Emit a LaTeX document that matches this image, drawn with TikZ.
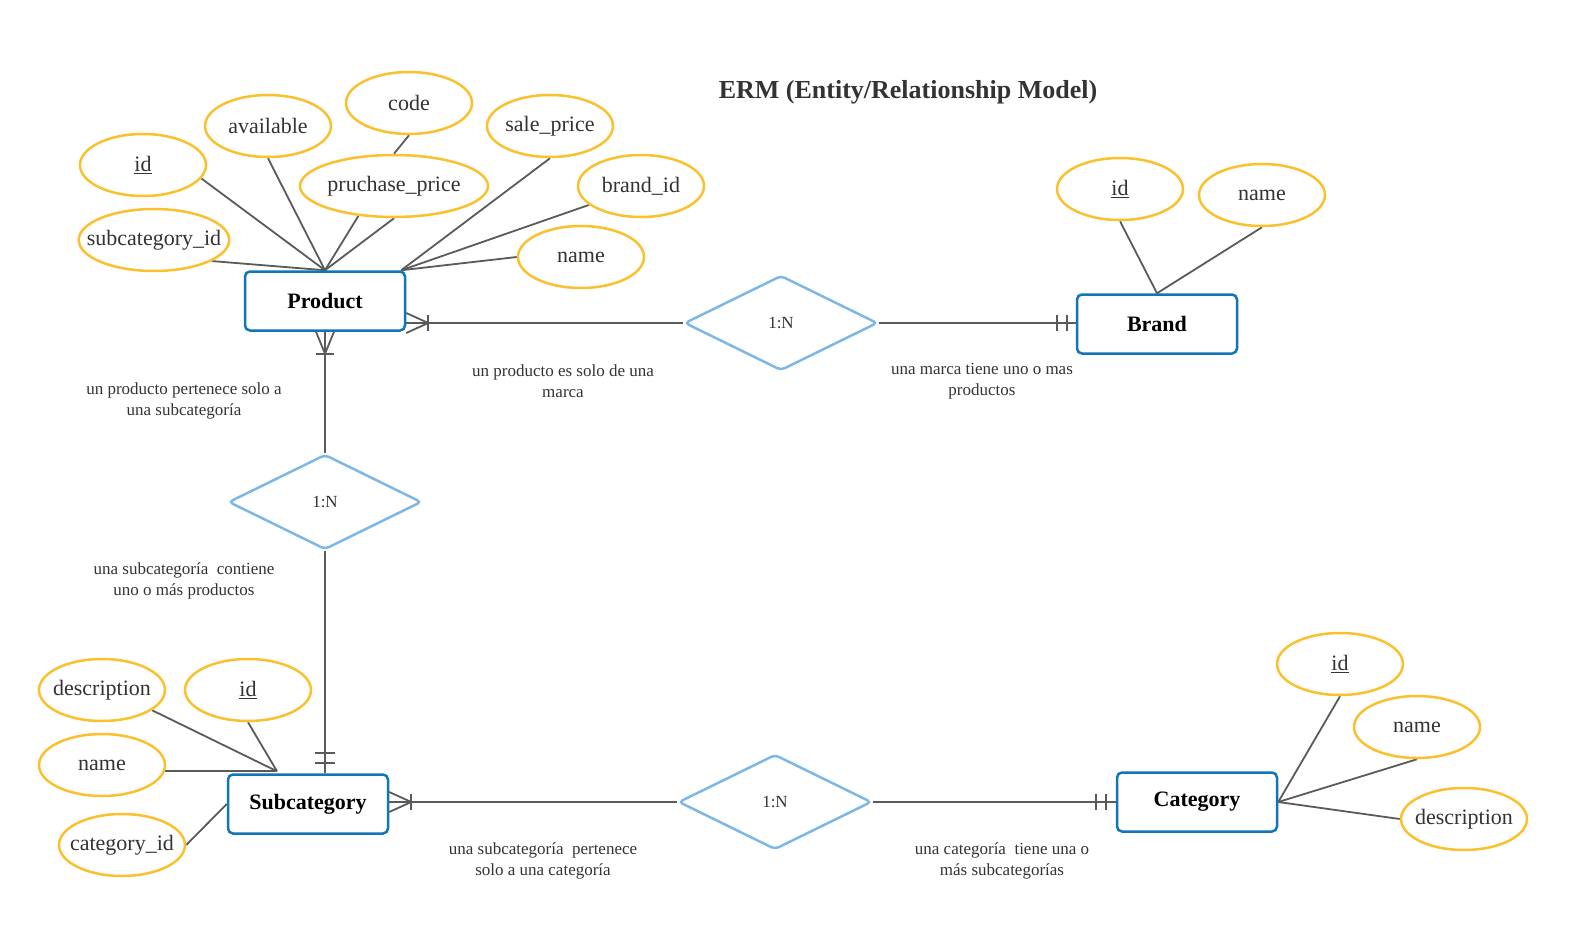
\documentclass[tikz,border=0pt]{standalone}
\usepackage{fontspec}
\setmainfont{Liberation Serif}
\usepackage{tikz}
\usetikzlibrary{shapes.geometric, positioning, calc, backgrounds}
\definecolor{ermorange}{RGB}{251, 192, 45}
\definecolor{ermblue}{RGB}{16, 118, 184}
\definecolor{ermsky}{RGB}{124, 183, 229}
\definecolor{ermgray}{RGB}{90, 90, 90}
\definecolor{ermtext}{RGB}{51, 51, 51}

\tikzset{
  attr/.style={ellipse, draw=ermorange, line width=2.5pt, fill=white, minimum width=126pt, minimum height=62pt, inner ysep=0pt, inner xsep=-14pt, text=ermtext, font=\fontsize{22}{25}\selectfont},
  entity/.style={rectangle, rounded corners=5pt, draw=ermblue, line width=2.5pt, fill=white, minimum width=160pt, minimum height=59pt, font=\fontsize{22}{26}\selectfont\bfseries},
  rel/.style={diamond, draw=ermsky, line width=2.5pt, fill=white, rounded corners=4pt, minimum width=193pt, minimum height=95pt, inner sep=0pt, text=ermtext, font=\fontsize{17}{20}\selectfont},
  conn/.style={ermgray, line width=1.8pt},
  note/.style={align=center, text=ermtext, font=\fontsize{17}{21}\selectfont}
}

\begin{document}
\begin{tikzpicture}[x=1pt, y=-1pt]
\useasboundingbox (0,0) rectangle (1572,947);

% Title
\node[font=\fontsize{26}{30}\selectfont\bfseries, text=ermtext] (title) at (908,92) {ERM (Entity/Relationship Model)};

% Entities
\node[entity] (prod) at (325,301) {Product};
\node[entity] (brand) at (1157,324) {Brand};
\node[entity] (subcat) at (308,804) {Subcategory};
\node[entity] (cat) at (1197,802) {Category};

% Relationships
\node[rel] (relpb) at (781,323) {1:N};
\node[rel] (relps) at (325,502) {1:N};
\node[rel] (relsc) at (775,802) {1:N};

% Product attributes
\node[attr] (pid) at (143,165) {\underline{id}};
\node[attr] (pavail) at (268,126) {available};
\node[attr] (pcode) at (409,103) {code};
\node[attr] (psale) at (550,126) {sale\_price};
\node[attr, minimum width=188pt] (ppurch) at (394,186) {pruchase\_price};
\node[attr] (pbrand) at (641,186) {brand\_id};
\node[attr] (pname) at (581,257) {name};
\node[attr, minimum width=150pt] (psub) at (154,240) {subcategory\_id};

% Brand attributes
\node[attr] (bid) at (1120,189) {\underline{id}};
\node[attr] (bname) at (1262,195) {name};

% Subcategory attributes
\node[attr] (sdesc) at (102,690) {description};
\node[attr] (sid) at (248,690) {\underline{id}};
\node[attr] (sname) at (102,765) {name};
\node[attr] (scat) at (122,845) {category\_id};

% Category attributes
\node[attr] (cid) at (1340,664) {\underline{id}};
\node[attr] (cname) at (1417,727) {name};
\node[attr] (cdesc) at (1464,819) {description};

% Attribute lines
\begin{scope}[on background layer]
\coordinate (ptr) at ($(prod.north east)+(-5,0)$);
\draw[conn] (pid.-13) -- (prod.north);
\draw[conn] (pavail.south) -- (prod.north);
\draw[conn] (pcode.south) -- (ppurch.north);
\draw[conn] (ppurch.-140) -- (prod.north);
\draw[conn] (ppurch.south) -- (prod.north);
\draw[conn] (psub.-20) -- (prod.north);
\draw[conn] (psale.south) -- (ptr);
\draw[conn] (pbrand.-160) -- (ptr);
\draw[conn] (pname.west) -- (ptr);
\draw[conn] (bid.south) -- (brand.north);
\draw[conn] (bname.south) -- (brand.north);
\coordinate (stop) at ($(subcat.north)+(-31,-2)$);
\draw[conn] (sdesc.-22) -- (stop);
\draw[conn] (sid.south) -- (stop);
\draw[conn] (sname.center |- stop) -- (stop);
\draw[conn] (scat.east) -- (subcat.west);
\draw[conn] (cid.south) -- (cat.east);
\draw[conn] (cname.south) -- (cat.east);
\draw[conn] (cdesc.west) -- (cat.east);
\end{scope}

% Product - Brand
\coordinate (pe) at (prod.east |- relpb);
\coordinate (bw) at (brand.west |- relpb);
\draw[conn] (pe) -- (relpb.west);
\draw[conn] (relpb.east) -- (bw);
\draw[conn] ($(pe)+(0,-10)$) -- ($(pe)+(22,0)$) -- ($(pe)+(0,10)$);
\draw[conn] ($(pe)+(22,-8)$) -- ($(pe)+(22,8)$);
\draw[conn] ($(bw)+(-19,-8)$) -- ($(bw)+(-19,8)$);
\draw[conn] ($(bw)+(-9,-8)$) -- ($(bw)+(-9,8)$);

% Product - Subcategory
\coordinate (st) at (relps.south |- subcat.north);
\draw[conn] (prod.south) -- (relps.north);
\draw[conn] (relps.south) -- (st);
\draw[conn] ($(prod.south)+(-9,0)$) -- ($(prod.south)+(0,22)$) -- ($(prod.south)+(9,0)$);
\draw[conn] ($(prod.south)+(-9,22)$) -- ($(prod.south)+(9,22)$);
\draw[conn] ($(st)+(-10,-20)$) -- ($(st)+(10,-20)$);
\draw[conn] ($(st)+(-10,-10)$) -- ($(st)+(10,-10)$);

% Subcategory - Category
\coordinate (se) at (subcat.east |- relsc);
\draw[conn] (se) -- (relsc.west);
\draw[conn] (relsc.east) -- (cat.west);
\draw[conn] ($(se)+(0,-10)$) -- ($(se)+(22,0)$) -- ($(se)+(0,10)$);
\draw[conn] ($(se)+(22,-8)$) -- ($(se)+(22,8)$);
\draw[conn] ($(cat.west)+(-20,-8)$) -- ($(cat.west)+(-20,8)$);
\draw[conn] ($(cat.west)+(-10,-8)$) -- ($(cat.west)+(-10,8)$);

% Notes
\node[note] (n1) at (184,401) {un producto pertenece solo a\\una subcategoría};
\node[note] (n2) at (563,381) {un producto es solo de una\\marca};
\node[note] (n3) at (982,381) {una marca tiene uno o mas\\productos};
\node[note] (n4) at (184,581) {una subcategoría\ \ contiene\\uno o más productos};
\node[note] (n5) at (543,861) {una subcategoría\ \ pertenece\\solo a una categoría};
\node[note] (n6) at (1002,861) {una categoría\ \ tiene una o\\más subcategorías};
\end{tikzpicture}
\end{document}
